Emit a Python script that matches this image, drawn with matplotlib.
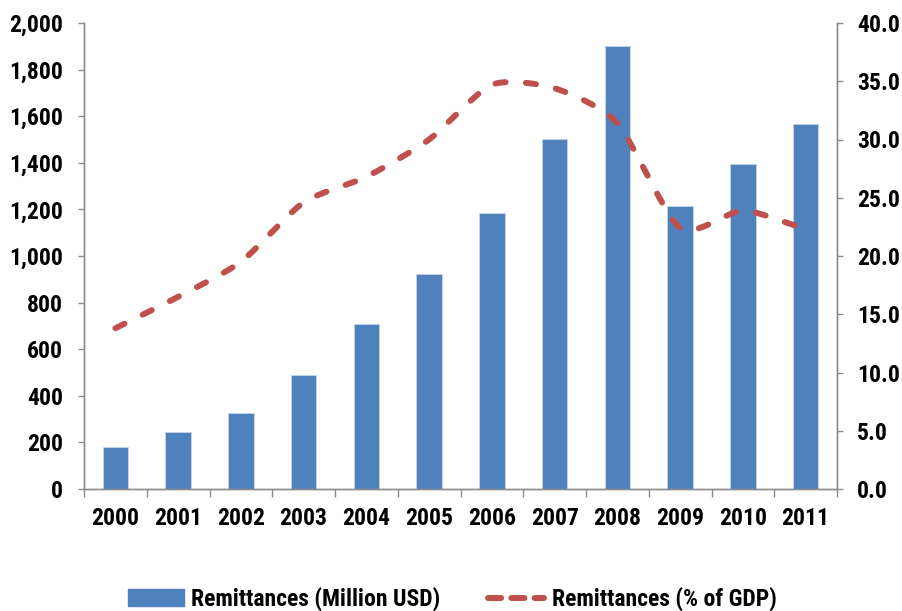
import numpy as np
import matplotlib
matplotlib.use("Agg")
import matplotlib.pyplot as plt
from matplotlib import font_manager
from matplotlib.lines import Line2D
from matplotlib.patches import Patch

years = ["2000", "2001", "2002", "2003", "2004", "2005",
         "2006", "2007", "2008", "2009", "2010", "2011"]
remit_musd = [180, 245, 326, 489, 708, 923, 1184, 1502, 1901, 1215, 1395, 1566]
remit_gdp = [13.8, 16.5, 19.5, 24.6, 26.8, 30.0, 34.7, 34.4, 31.4, 22.4, 23.9, 22.3]

left_ticks = [0, 200, 400, 600, 800, 1000, 1200, 1400, 1600, 1800, 2000]
right_ticks = [0, 5, 10, 15, 20, 25, 30, 35, 40]

# Prefer a narrow bold face when one is installed
fm = font_manager.fontManager
names = {f.name for f in fm.ttflist}
font_kw = {}
fam = "Liberation Sans"
for cand in ("Liberation Sans Narrow", "Arial Narrow", "Roboto Condensed",
             "Open Sans Condensed", "DejaVu Sans Condensed"):
    if cand in names:
        fam = cand
        break
else:
    condensed = [f for f in fm.ttflist
                 if str(f.stretch) in ("condensed", "semi-condensed", "500", "600")
                 or "Condensed" in f.fname or "Narrow" in f.fname]
    if condensed:
        fam = condensed[0].name
        font_kw["stretch"] = condensed[0].stretch
plt.rcParams["font.family"] = [fam, "DejaVu Sans"]
plt.rcParams["font.weight"] = "bold"
if "stretch" in font_kw:
    plt.rcParams["font.stretch"] = font_kw["stretch"]

BLUE = "#4F81BD"
RED = "#C0504D"
GREY = "#8C8C8C"


def smooth_curve(x, y, n=30):
    """Cardinal-spline path through the points (Excel-style smoothed line)."""
    x = np.asarray(x, float)
    y = np.asarray(y, float)
    px = np.concatenate([[2 * x[0] - x[1]], x, [2 * x[-1] - x[-2]]])
    py = np.concatenate([[2 * y[0] - y[1]], y, [2 * y[-1] - y[-2]]])
    xs, ys = [], []
    t = np.linspace(0, 1, n, endpoint=False)
    for i in range(1, len(px) - 2):
        p0, p1, p2, p3 = (np.array([px[j], py[j]]) for j in range(i - 1, i + 3))
        m1 = (p2 - p0) / 2 * 0.7
        m2 = (p3 - p1) / 2 * 0.7
        h00 = 2 * t**3 - 3 * t**2 + 1
        h10 = t**3 - 2 * t**2 + t
        h01 = -2 * t**3 + 3 * t**2
        h11 = t**3 - t**2
        pts = (np.outer(h00, p1) + np.outer(h10, m1)
               + np.outer(h01, p2) + np.outer(h11, m2))
        xs.extend(pts[:, 0])
        ys.extend(pts[:, 1])
    xs.append(x[-1])
    ys.append(y[-1])
    return np.array(xs), np.array(ys)


fig = plt.figure(figsize=(9.02, 6.11), dpi=100)
ax = fig.add_axes([84 / 902, 1 - 489 / 611, (837 - 84) / 902, (489 - 23) / 611])
ax2 = ax.twinx()

x = np.arange(len(years))
ax.bar(x, remit_musd, width=0.41, color=BLUE, edgecolor="#C6D5EA",
       linewidth=0.6, zorder=2)

sx, sy = smooth_curve(x, remit_gdp)
ax2.plot(sx, sy, color=RED, linewidth=4.3, dashes=(1.7, 3.4),
         dash_capstyle="round", solid_capstyle="round", zorder=3)

ax.set_xlim(-0.5, len(years) - 0.5)
ax.set_ylim(0, 2000)
ax2.set_ylim(0, 40)

ax.set_yticks(left_ticks)
ax.set_yticklabels([f"{v:,}" for v in left_ticks])
ax2.set_yticks(right_ticks)
ax2.set_yticklabels([f"{v:.1f}" for v in right_ticks])

ax.set_xticks(x)
ax.set_xticklabels(years)
ax.set_xticks(np.arange(-0.5, len(years), 1.0), minor=True)
ax.tick_params(axis="x", which="major", length=0, pad=13, labelsize=17)
ax.tick_params(axis="x", which="minor", length=6, width=1, color=GREY)
ax.tick_params(axis="y", length=4.5, width=1, color=GREY, labelsize=17, pad=10.5)
ax2.tick_params(axis="y", length=4.5, width=1, color=GREY, labelsize=17, pad=10)

for a in (ax, ax2):
    a.spines["top"].set_visible(False)
    for side in ("left", "right", "bottom"):
        a.spines[side].set_color(GREY)
        a.spines[side].set_linewidth(1)

handles = [
    Patch(facecolor=BLUE, edgecolor=BLUE),
    Line2D([0], [0], color=RED, linewidth=4.3, dashes=(2.2, 1.7),
           dash_capstyle="round"),
]
labels = ["Remittances (Million USD)", "Remittances (% of GDP)"]
fig.legend(handles, labels, loc="center", bbox_to_anchor=(452 / 902, 1 - 599 / 611),
           ncol=2, frameon=False, fontsize=17, handlelength=2.4,
           handleheight=0.7, columnspacing=2.0, handletextpad=0.3)

fig.savefig("out.png", dpi=100)
